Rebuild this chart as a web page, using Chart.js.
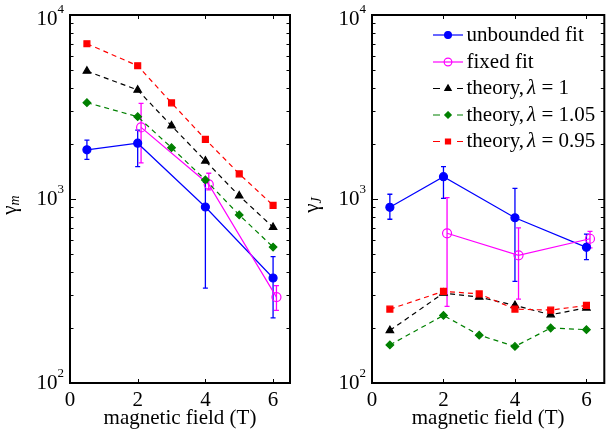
<!DOCTYPE html>
<html>
<head>
<meta charset="utf-8">
<script src="https://cdn.jsdelivr.net/npm/chart.js@4/dist/chart.umd.min.js"></script>
<style>
html, body { margin: 0; padding: 0; background: #fff; }
#wrap { position: relative; width: 610px; height: 436px; }
.panel { position: absolute; top: 0; height: 436px; }
</style>
</head>
<body>
<div id="wrap">
  <div class="panel" style="left:0;width:300px"><canvas id="left" width="300" height="436"></canvas></div>
  <div class="panel" style="left:300px;width:310px"><canvas id="right" width="310" height="436"></canvas></div>
</div>
<script>
// magnetic field values (T)
const xFit = [0.5, 2, 4, 6];
const xFixed = [2.1, 4.1, 6.1];
const xTheory = [0.5, 2, 3, 4, 5, 6];
const xTicks = [0, 2, 4, 6];
const yDecades = [100, 1000, 10000];

// gamma_m panel
const mUnbounded = [1850, 2010, 905, 372];
const mUnboundedLo = [1640, 1500, 328, 226];
const mUnboundedHi = [2090, 2370, 1230, 486];
const mFixed = [2450, 1200, 293];
const mFixedLo = [1570, 1120, 248];
const mFixedHi = [3310, 1380, 338];
const mTheory1 = [4960, 3910, 2500, 1610, 1040, 702];
const mTheory105 = [3340, 2800, 1900, 1270, 819, 548];
const mTheory095 = [6980, 5300, 3330, 2110, 1370, 924];

// gamma_J panel
const jUnbounded = [901, 1322, 791, 546];
const jUnboundedLo = [776, 1007, 357, 468];
const jUnboundedHi = [1061, 1499, 1143, 645];
const jFixed = [651, 494, 608];
const jFixedLo = [261, 286, 542];
const jFixedHi = [1017, 696, 667];
const jTheory1 = [193, 308, 293, 264, 235, 256];
const jTheory105 = [161, 233, 182, 158, 199, 195];
const jTheory095 = [252, 315, 305, 252, 249, 264];

const FONT = '"Liberation Serif", "Times New Roman", serif';

const series = [
    { label: 'unbounded fit', color: '#0000ff', style: 'circle', radius: 4, fill: true, dash: [], order: 4 },
    { label: 'fixed fit', color: '#ff00ff', style: 'circle', radius: 4.5, fill: false, dash: [], order: 3 },
    { label: 'theory, ', lam: '1', color: '#000000', style: 'triangle', radius: 4.3, fill: true, dash: [5, 4], order: 2 },
    { label: 'theory, ', lam: '1.05', color: '#008000', style: 'rectRot', radius: 3.8, fill: true, dash: [5, 4], order: 1 },
    { label: 'theory, ', lam: '0.95', color: '#ff0000', style: 'rect', radius: 4.2, fill: true, dash: [5, 4], order: 0 }
];

function makeDataset(s, xs, ys, lo, hi) {
    return {
        label: s.label,
        data: xs.map((x, i) => ({ x: x, y: ys[i] })),
        showLine: true,
        borderColor: s.color,
        borderWidth: 1.2,
        borderDash: s.dash,
        pointStyle: s.style,
        pointRadius: s.radius,
        pointBorderWidth: 1.2,
        pointBorderColor: s.color,
        pointBackgroundColor: s.fill ? s.color : 'rgba(0,0,0,0)',
        order: s.order,
        errLo: lo,
        errHi: hi
    };
}

const errorBars = {
    id: 'errorBars',
    beforeDatasetsDraw(chart) {
        const ctx = chart.ctx, xs = chart.scales.x, ys = chart.scales.y;
        ctx.save();
        chart.data.datasets.forEach(ds => {
            if (!ds.errLo) return;
            ctx.strokeStyle = ds.borderColor;
            ctx.lineWidth = 1.3;
            ctx.beginPath();
            ds.data.forEach((p, i) => {
                const px = xs.getPixelForValue(p.x);
                const top = ys.getPixelForValue(ds.errHi[i]);
                const bot = ys.getPixelForValue(ds.errLo[i]);
                ctx.moveTo(px, top); ctx.lineTo(px, bot);
                ctx.moveTo(px - 2.5, top); ctx.lineTo(px + 2.5, top);
                ctx.moveTo(px - 2.5, bot); ctx.lineTo(px + 2.5, bot);
            });
            ctx.stroke();
        });
        ctx.restore();
    }
};

function drawMarker(ctx, s, x, y) {
    ctx.save();
    ctx.strokeStyle = s.color;
    ctx.fillStyle = s.color;
    ctx.lineWidth = 1.2;
    ctx.setLineDash([]);
    ctx.beginPath();
    const r = s.radius;
    if (s.style === 'circle') {
        ctx.arc(x, y, r, 0, Math.PI * 2);
    } else if (s.style === 'triangle') {
        ctx.moveTo(x, y - r);
        ctx.lineTo(x + r * 0.866, y + r * 0.5);
        ctx.lineTo(x - r * 0.866, y + r * 0.5);
        ctx.closePath();
    } else if (s.style === 'rectRot') {
        ctx.moveTo(x, y - r); ctx.lineTo(x + r, y); ctx.lineTo(x, y + r); ctx.lineTo(x - r, y);
        ctx.closePath();
    } else {
        const h = r * Math.SQRT1_2;
        ctx.rect(x - h, y - h, 2 * h, 2 * h);
    }
    if (s.fill) ctx.fill();
    ctx.stroke();
    ctx.restore();
}

const frame = {
    id: 'frame',
    afterDraw(chart, args, o) {
        const ctx = chart.ctx, a = chart.chartArea, xs = chart.scales.x, ys = chart.scales.y;
        ctx.save();
        // ticks, pointing inward on all four sides
        ctx.strokeStyle = '#000';
        ctx.lineWidth = 1;
        ctx.beginPath();
        xTicks.forEach(v => {
            const px = Math.round(xs.getPixelForValue(v)) + 0.5;
            ctx.moveTo(px, a.bottom); ctx.lineTo(px, a.bottom - 4);
            ctx.moveTo(px, a.top); ctx.lineTo(px, a.top + 4);
        });
        [100, 1000].forEach(d => {
            for (let k = 1; k <= 10; k++) {
                const py = Math.round(ys.getPixelForValue(k * d)) + 0.5;
                const len = (k === 1 || k === 10) ? 6 : 3.5;
                ctx.moveTo(a.left, py); ctx.lineTo(a.left + len, py);
                ctx.moveTo(a.right, py); ctx.lineTo(a.right - len, py);
            }
        });
        ctx.stroke();
        ctx.lineWidth = 2;
        ctx.strokeRect(a.left, a.top, a.right - a.left, a.bottom - a.top);

        // x tick labels and title
        ctx.fillStyle = '#000';
        ctx.font = '21px ' + FONT;
        ctx.textAlign = 'center';
        ctx.textBaseline = 'middle';
        xTicks.forEach(v => ctx.fillText(String(v), xs.getPixelForValue(v), a.bottom + 17));
        ctx.fillText('magnetic field (T)', (a.left + a.right) / 2, a.bottom + 35);

        // y tick labels 10^n
        yDecades.forEach(v => {
            const py = ys.getPixelForValue(v) + (v === 10000 ? 4 : 0);
            const e = String(Math.round(Math.log10(v)));
            ctx.font = '13px ' + FONT;
            ctx.textAlign = 'left';
            const ew = ctx.measureText(e).width;
            const ex = a.left - 6 - ew;
            ctx.fillText(e, ex, py - 9);
            ctx.font = '21px ' + FONT;
            ctx.textAlign = 'right';
            ctx.fillText('10', ex, py);
        });

        // y title: gamma with italic subscript
        ctx.translate(o.titleX, 205);
        ctx.rotate(-Math.PI / 2);
        ctx.textBaseline = 'alphabetic';
        ctx.textAlign = 'left';
        ctx.font = '21px ' + FONT;
        const gw = ctx.measureText('\u03b3').width;
        ctx.font = 'italic 14px ' + FONT;
        const sw = ctx.measureText(o.sub).width;
        const x0 = -(gw + sw) / 2;
        ctx.font = '21px ' + FONT;
        ctx.fillText('\u03b3', x0, 0);
        ctx.font = 'italic 14px ' + FONT;
        ctx.fillText(o.sub, x0 + gw, 2.5);
        ctx.restore();

        if (o.legend) drawLegend(ctx);
    }
};

function drawLegend(ctx) {
    const rows = [35, 62, 88.5, 115, 141.5];
    ctx.save();
    ctx.textBaseline = 'middle';
    ctx.textAlign = 'left';
    series.forEach((s, i) => {
        const y = rows[i];
        ctx.strokeStyle = s.color;
        ctx.lineWidth = 1.2;
        ctx.beginPath();
        if (s.dash.length) {
            ctx.moveTo(133, y); ctx.lineTo(140, y);
            ctx.moveTo(157, y); ctx.lineTo(163, y);
        } else {
            ctx.moveTo(133, y); ctx.lineTo(163, y);
        }
        ctx.stroke();
        drawMarker(ctx, Object.assign({}, s, { radius: s.radius * 0.85 }), 148, y);
        ctx.fillStyle = '#000';
        ctx.font = '21px ' + FONT;
        let tx = 166.5;
        if (s.lam) {
            ctx.fillText('theory,', tx, y);
            tx += ctx.measureText('theory,').width + 3;
            ctx.font = 'italic 21px ' + FONT;
            ctx.fillText('\u03bb', tx, y);
            tx += ctx.measureText('\u03bb').width;
            ctx.font = '21px ' + FONT;
            ctx.fillText(' = ' + s.lam, tx, y);
        } else {
            ctx.fillText(s.label, tx, y);
        }
    });
    ctx.restore();
}

function makeChart(id, pad, titleX, sub, legend, sets) {
    return new Chart(document.getElementById(id), {
        type: 'scatter',
        data: {
            datasets: [
                makeDataset(series[0], xFit, sets[0], sets[1], sets[2]),
                makeDataset(series[1], xFixed, sets[3], sets[4], sets[5]),
                makeDataset(series[2], xTheory, sets[6]),
                makeDataset(series[3], xTheory, sets[7]),
                makeDataset(series[4], xTheory, sets[8])
            ]
        },
        options: {
            responsive: false,
            animation: false,
            layout: { padding: pad },
            plugins: {
                legend: { display: false },
                tooltip: { enabled: false },
                frame: { titleX: titleX, sub: sub, legend: legend }
            },
            scales: {
                x: { type: 'linear', min: 0, max: 6.5, display: false },
                y: { type: 'logarithmic', min: 100, max: 10000, display: false }
            }
        },
        plugins: [errorBars, frame]
    });
}

makeChart('left', { left: 70, right: 10, top: 15, bottom: 53 }, 16, 'm', false,
    [mUnbounded, mUnboundedLo, mUnboundedHi, mFixed, mFixedLo, mFixedHi, mTheory1, mTheory105, mTheory095]);
makeChart('right', { left: 72, right: 1, top: 15, bottom: 53 }, 18, 'J', true,
    [jUnbounded, jUnboundedLo, jUnboundedHi, jFixed, jFixedLo, jFixedHi, jTheory1, jTheory105, jTheory095]);
</script>
</body>
</html>
